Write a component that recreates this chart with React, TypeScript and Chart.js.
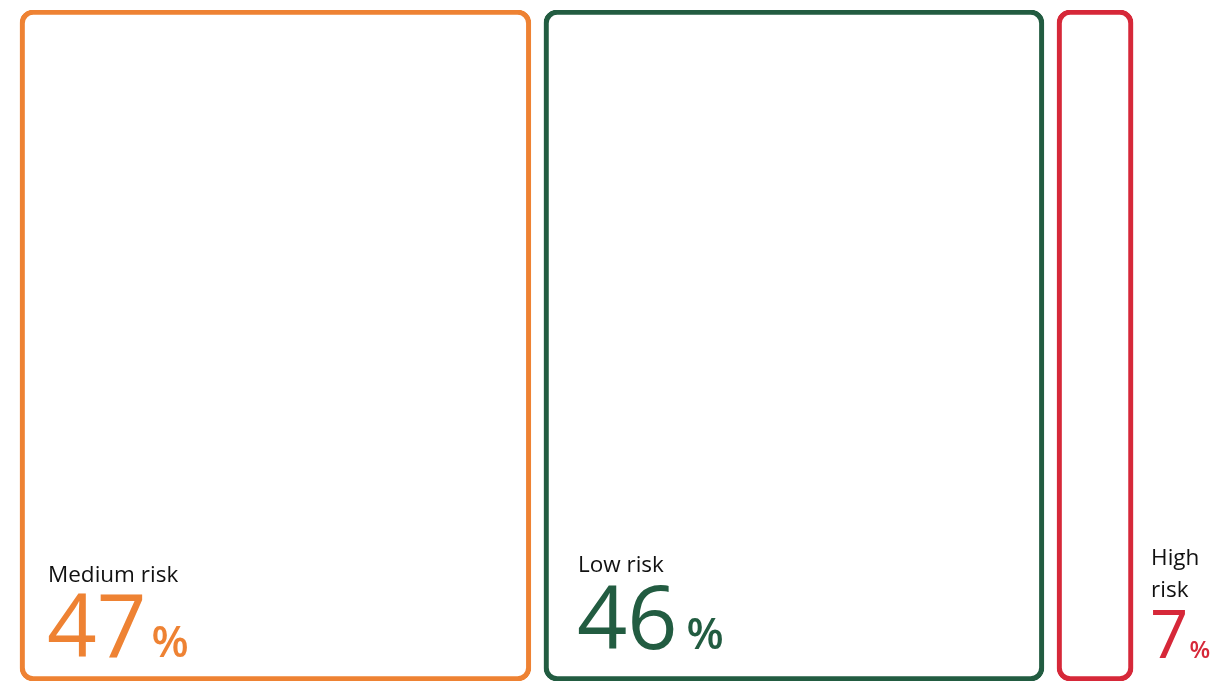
import React, { useEffect, useRef } from "react";
import { Chart, registerables } from "chart.js";

Chart.register(...registerables);

// ---- data ----
const categories = ["Medium risk", "Low risk", "High risk"];
const shares = [47, 46, 7];
const labelLines = [["Medium risk"], ["Low risk"], ["High", "risk"]];
const colors = ["#EE8233", "#225C41", "#D62839"];

// ---- layout constants (not data) ----
const X_MAX = 111.5; // axis extent in share units
const START = 1.84; // left offset in share units
const GAP = 1.2; // gap between boxes in share units

// per-box label layout: where the text sits relative to the box
const labelLayout = [
  { side: "inside", dx: 28, labelBase: 99, lineH: 32, numBase: 24, numSize: 87, pctSize: 43, pctGap: 5 },
  { side: "inside", dx: 34, labelBase: 109, lineH: 32, numBase: 32, numSize: 88, pctSize: 43, pctGap: 9 },
  { side: "outside", dx: 18, labelBase: 116, lineH: 32, numBase: 23, numSize: 67, pctSize: 24, pctGap: 1 },
];

const FONT = '"Open Sans", "Noto Sans", sans-serif';

function buildRanges(values: number[]): [number, number][] {
  const out: [number, number][] = [];
  let cur = START;
  values.forEach((v) => {
    out.push([cur, cur + v]);
    cur += v + GAP;
  });
  return out;
}

const labelPlugin = {
  id: "riskLabels",
  afterDatasetsDraw(chart: any) {
    const ctx = chart.ctx as CanvasRenderingContext2D;
    ctx.save();
    chart.data.datasets.forEach((ds: any, i: number) => {
      const meta = chart.getDatasetMeta(i);
      const el = meta.data[0];
      if (!el) return;
      const p = el.getProps(["x", "y", "base", "height"], true);
      const left = Math.min(p.x, p.base);
      const right = Math.max(p.x, p.base);
      const bottom = p.y + p.height / 2;
      const lay = labelLayout[i];
      const tx = lay.side === "inside" ? left + lay.dx : right + lay.dx;

      ctx.textAlign = "left";
      ctx.textBaseline = "alphabetic";
      ctx.fillStyle = "#111111";
      ctx.font = `400 22.5px ${FONT}`;
      labelLines[i].forEach((line, li) => {
        ctx.fillText(line, tx, bottom - lay.labelBase + li * lay.lineH);
      });

      const num = String(shares[i]);
      ctx.fillStyle = colors[i];
      ctx.font = `400 ${lay.numSize}px ${FONT}`;
      const ny = bottom - lay.numBase;
      ctx.fillText(num, tx - 1, ny);
      const w = ctx.measureText(num).width;
      ctx.font = `600 ${lay.pctSize}px ${FONT}`;
      ctx.fillText("%", tx - 1 + w + lay.pctGap, ny);
    });
    ctx.restore();
  },
};

export default function App() {
  const canvasRef = useRef<HTMLCanvasElement | null>(null);

  useEffect(() => {
    if (!canvasRef.current) return;
    const ranges = buildRanges(shares);
    const chart = new Chart(canvasRef.current, {
      type: "bar",
      data: {
        labels: [""],
        datasets: categories.map((c, i) => ({
          label: c,
          data: [ranges[i]] as any,
          backgroundColor: "rgba(0,0,0,0)",
          borderColor: colors[i],
          borderWidth: 4.5,
          borderRadius: 13,
          borderSkipped: false,
          grouped: false,
          barPercentage: 1,
          categoryPercentage: 1,
        })),
      },
      options: {
        indexAxis: "y",
        animation: false,
        responsive: false,
        maintainAspectRatio: false,
        layout: { padding: { top: 10, bottom: 1, left: 0, right: 0 } },
        scales: {
          x: { type: "linear", min: 0, max: X_MAX, display: false },
          y: { type: "category", display: false, offset: true },
        },
        plugins: {
          legend: { display: false },
          tooltip: { enabled: false },
        },
      },
      plugins: [labelPlugin],
    });
    return () => chart.destroy();
  }, []);

  return (
    <div style={{ position: "fixed", left: 0, top: 0, width: 1212, height: 682, background: "#ffffff" }}>
      <canvas ref={canvasRef} width={1212} height={682} style={{ width: 1212, height: 682, display: "block" }} />
    </div>
  );
}
